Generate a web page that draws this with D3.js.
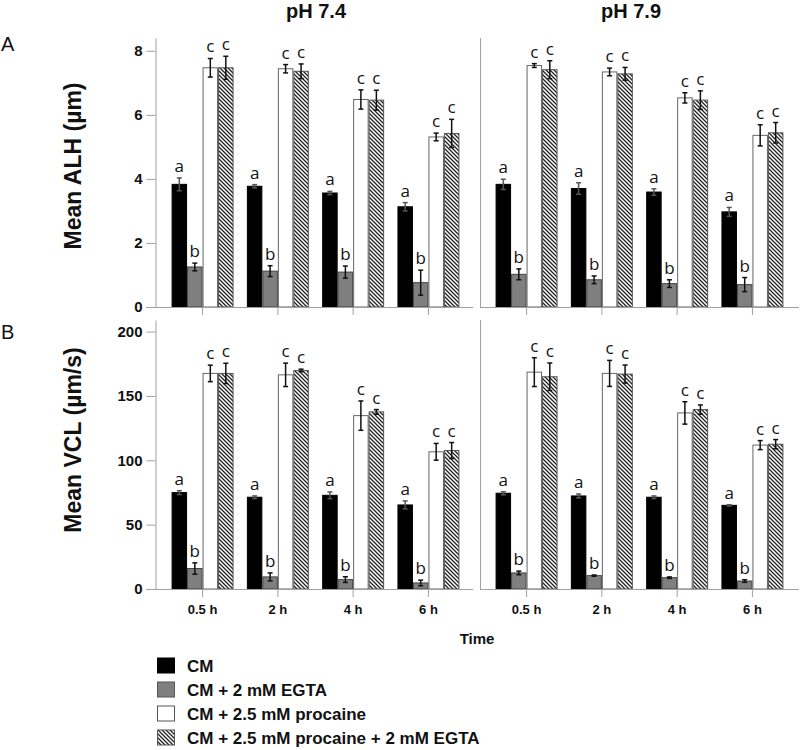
<!DOCTYPE html>
<html>
<head>
<meta charset="utf-8">
<script src="https://cdn.jsdelivr.net/npm/d3@7"></script>
<style>
  html, body { margin: 0; padding: 0; background: #fff; }
  svg { display: block; }
</style>
</head>
<body>
<svg id="chart" width="800" height="750"></svg>
<script>
// ---------- data ----------
const times = ["0.5 h", "2 h", "4 h", "6 h"];
const seriesNames = ["CM", "CM + 2 mM EGTA", "CM + 2.5 mM procaine", "CM + 2.5 mM procaine + 2 mM EGTA"];
const seriesLetters = ["a", "b", "c", "c"];
const phLabels = ["pH 7.4", "pH 7.9"];

// Mean ALH (µm), pH 7.4
const alh74_CM      = [3.83, 3.77, 3.56, 3.13];
const alh74_EGTA    = [1.25, 1.12, 1.09, 0.76];
const alh74_Proc    = [7.47, 7.44, 6.48, 5.31];
const alh74_ProcEG  = [7.47, 7.36, 6.46, 5.42];
const alh74_CM_err     = [0.20, 0.05, 0.05, 0.13];
const alh74_EGTA_err   = [0.12, 0.17, 0.19, 0.39];
const alh74_Proc_err   = [0.29, 0.13, 0.30, 0.12];
const alh74_ProcEG_err = [0.36, 0.23, 0.31, 0.44];

// Mean ALH (µm), pH 7.9
const alh79_CM      = [3.83, 3.70, 3.59, 2.97];
const alh79_EGTA    = [1.02, 0.85, 0.73, 0.70];
const alh79_Proc    = [7.54, 7.34, 6.53, 5.36];
const alh79_ProcEG  = [7.41, 7.28, 6.46, 5.44];
const alh79_CM_err     = [0.16, 0.18, 0.10, 0.14];
const alh79_EGTA_err   = [0.17, 0.12, 0.12, 0.22];
const alh79_Proc_err   = [0.06, 0.12, 0.16, 0.33];
const alh79_ProcEG_err = [0.28, 0.20, 0.29, 0.32];

// Mean VCL (µm/s), pH 7.4
const vcl74_CM      = [74.9, 71.3, 72.8, 65.3];
const vcl74_EGTA    = [15.9, 9.4, 7.3, 4.7];
const vcl74_Proc    = [167.5, 166.4, 134.7, 106.6];
const vcl74_ProcEG  = [167.5, 169.8, 137.6, 107.6];
const vcl74_CM_err     = [1.5, 1.0, 2.6, 3.1];
const vcl74_EGTA_err   = [4.4, 3.1, 2.2, 2.2];
const vcl74_Proc_err   = [6.4, 9.1, 11.4, 6.5];
const vcl74_ProcEG_err = [7.9, 1.0, 1.8, 6.2];

// Mean VCL (µm/s), pH 7.9
const vcl79_CM      = [74.4, 72.3, 71.3, 65.0];
const vcl79_EGTA    = [12.5, 10.4, 8.8, 6.2];
const vcl79_Proc    = [168.5, 167.5, 136.8, 111.8];
const vcl79_ProcEG  = [164.9, 167.0, 139.4, 112.5];
const vcl79_CM_err     = [1.2, 1.5, 1.0, 0.5];
const vcl79_EGTA_err   = [1.4, 0.5, 0.6, 1.0];
const vcl79_Proc_err   = [11.2, 10.1, 8.7, 3.5];
const vcl79_ProcEG_err = [10.7, 7.0, 3.6, 3.6];

const alhTicks = [0, 2, 4, 6, 8];
const vclTicks = [0, 50, 100, 150, 200];

// ---------- layout ----------
const svg = d3.select("#chart");
const defs = svg.append("defs");
const pat = defs.append("pattern")
  .attr("id", "hatch").attr("patternUnits", "userSpaceOnUse")
  .attr("width", 4).attr("height", 4);
pat.append("rect").attr("width", 4).attr("height", 4).attr("fill", "#fff");
pat.append("path").attr("d", "M-1,-1 L5,5 M-1,3 L1,5 M3,-1 L5,1")
  .attr("stroke", "#222").attr("stroke-width", 1.3);

const fills = ["#000000", "#7f7f7f", "#ffffff", "url(#hatch)"];
const strokes = ["#000000", "#444444", "#666666", "#555555"];
const axisColor = "#a0a0a0";

const panelX = [[156, 475], [480, 799]];
const baseEnd = [473, 799];
const rows = [
  { y: d3.scaleLinear().domain([0, 8.4]).range([307, 38]), ticks: alhTicks,
    data: [
      [[alh74_CM, alh74_CM_err], [alh74_EGTA, alh74_EGTA_err], [alh74_Proc, alh74_Proc_err], [alh74_ProcEG, alh74_ProcEG_err]],
      [[alh79_CM, alh79_CM_err], [alh79_EGTA, alh79_EGTA_err], [alh79_Proc, alh79_Proc_err], [alh79_ProcEG, alh79_ProcEG_err]]
    ] },
  { y: d3.scaleLinear().domain([0, 209]).range([589, 320]), ticks: vclTicks,
    data: [
      [[vcl74_CM, vcl74_CM_err], [vcl74_EGTA, vcl74_EGTA_err], [vcl74_Proc, vcl74_Proc_err], [vcl74_ProcEG, vcl74_ProcEG_err]],
      [[vcl79_CM, vcl79_CM_err], [vcl79_EGTA, vcl79_EGTA_err], [vcl79_Proc, vcl79_Proc_err], [vcl79_ProcEG, vcl79_ProcEG_err]]
    ] }
];

rows.forEach((row, ri) => {
  const y = row.y;
  const y0 = y(0);
  // y axis (left)
  const yAxis = svg.append("g").attr("transform", "translate(155.5,0)")
    .call(d3.axisLeft(y).tickValues(row.ticks).tickSize(9).tickSizeOuter(0).tickPadding(4));
  yAxis.select(".domain").attr("stroke", axisColor);
  yAxis.selectAll(".tick line").attr("stroke", axisColor);
  yAxis.selectAll(".tick text").attr("font-family", "Liberation Sans, Arial, sans-serif")
    .attr("font-weight", "bold").attr("font-size", 15).attr("fill", "#111");

  panelX.forEach((pr, pi) => {
    const x = d3.scaleBand().domain(times).range(pr).paddingInner(0.177).paddingOuter(0.207);
    const xs = d3.scaleBand().domain(d3.range(4)).range([0, x.bandwidth()]).padding(0);
    const g = svg.append("g");

    // vertical divider for right panel
    if (pi === 1) {
      g.append("line").attr("x1", 480.5).attr("x2", 480.5)
        .attr("y1", y.range()[1]).attr("y2", y0)
        .attr("stroke", axisColor).attr("stroke-width", 1);
    }
    // x axis ticks
    const xAxis = g.append("g").attr("transform", `translate(0,${y0})`)
      .call(d3.axisBottom(x).tickSize(8).tickSizeOuter(0).tickPadding(8));
    xAxis.select(".domain").remove();
    xAxis.selectAll(".tick line").attr("stroke", axisColor);
    if (ri === 0) xAxis.selectAll(".tick text").remove();
    else xAxis.selectAll(".tick text").attr("font-family", "Liberation Sans, Arial, sans-serif")
      .attr("font-weight", "bold").attr("font-size", 13).attr("fill", "#111");

    const series = row.data[pi];
    series.forEach((s, si) => {
      const [vals, errs] = s;
      times.forEach((t, ti) => {
        const bx = x(t) + xs(si);
        const bw = xs.bandwidth();
        const v = vals[ti], e = errs[ti];
        g.append("rect").attr("x", bx + 0.5).attr("y", y(v))
          .attr("width", bw - 1).attr("height", y0 - y(v))
          .attr("fill", fills[si]).attr("stroke", strokes[si]).attr("stroke-width", 1);
        const cx = bx + bw / 2;
        const ec = si === 0 ? "#555" : "#111";
        g.append("line").attr("x1", cx).attr("x2", cx).attr("y1", y(v + e)).attr("y2", y(v - e))
          .attr("stroke", ec).attr("stroke-width", 1.5);
        [v + e, v - e].forEach(ev => {
          g.append("line").attr("x1", cx - 2.5).attr("x2", cx + 2.5).attr("y1", y(ev)).attr("y2", y(ev))
            .attr("stroke", ec).attr("stroke-width", 1.5);
        });
        g.append("text").attr("x", cx).attr("y", y(v + e) - 6)
          .attr("text-anchor", "middle").attr("font-family", "Open Sans, Lato, sans-serif")
          .attr("font-size", 17).attr("fill", "#111").text(seriesLetters[si]);
      });
    });
    // baseline
    g.append("line").attr("x1", pi === 0 ? 146 : pr[0]).attr("x2", baseEnd[pi])
      .attr("y1", y0 + 0.5).attr("y2", y0 + 0.5).attr("stroke", axisColor).attr("stroke-width", 1);

    if (ri === 0) {
      svg.append("text").attr("x", pi === 0 ? 316 : 631).attr("y", 18)
        .attr("text-anchor", "middle").attr("font-family", "Liberation Sans, Arial, sans-serif")
        .attr("font-weight", "bold").attr("font-size", 20).attr("fill", "#111").text(phLabels[pi]);
    }
  });
});

// Y titles and panel letters
const yTitles = [["Mean ALH (µm)", 166], ["Mean VCL (µm/s)", 440]];
yTitles.forEach(([t, cy]) => {
  svg.append("text").attr("transform", `translate(81,${cy}) rotate(-90)`)
    .attr("text-anchor", "middle").attr("font-family", "Liberation Sans, Arial, sans-serif")
    .attr("font-weight", "bold").attr("font-size", 23).attr("fill", "#111").text(t);
});
[["A", 51], ["B", 339]].forEach(([t, by]) => {
  svg.append("text").attr("x", 1).attr("y", by).attr("font-family", "Liberation Sans, Arial, sans-serif")
    .attr("font-size", 20).attr("fill", "#111").text(t);
});

// X title
svg.append("text").attr("x", 477).attr("y", 644).attr("text-anchor", "middle")
  .attr("font-family", "Liberation Sans, Arial, sans-serif").attr("font-weight", "bold")
  .attr("font-size", 15).attr("fill", "#111").text("Time");

// Legend
const leg = svg.append("g");
seriesNames.forEach((n, i) => {
  const cy = 665.5 + i * 24;
  leg.append("rect").attr("x", 157.5).attr("y", cy - 7.5).attr("width", 17).attr("height", 15)
    .attr("fill", fills[i]).attr("stroke", i === 0 ? "#000" : "#555").attr("stroke-width", 1);
  leg.append("text").attr("x", 187).attr("y", cy + 6)
    .attr("font-family", "Liberation Sans, Arial, sans-serif").attr("font-weight", "bold")
    .attr("font-size", 17).attr("fill", "#111").text(n);
});
</script>
</body>
</html>
